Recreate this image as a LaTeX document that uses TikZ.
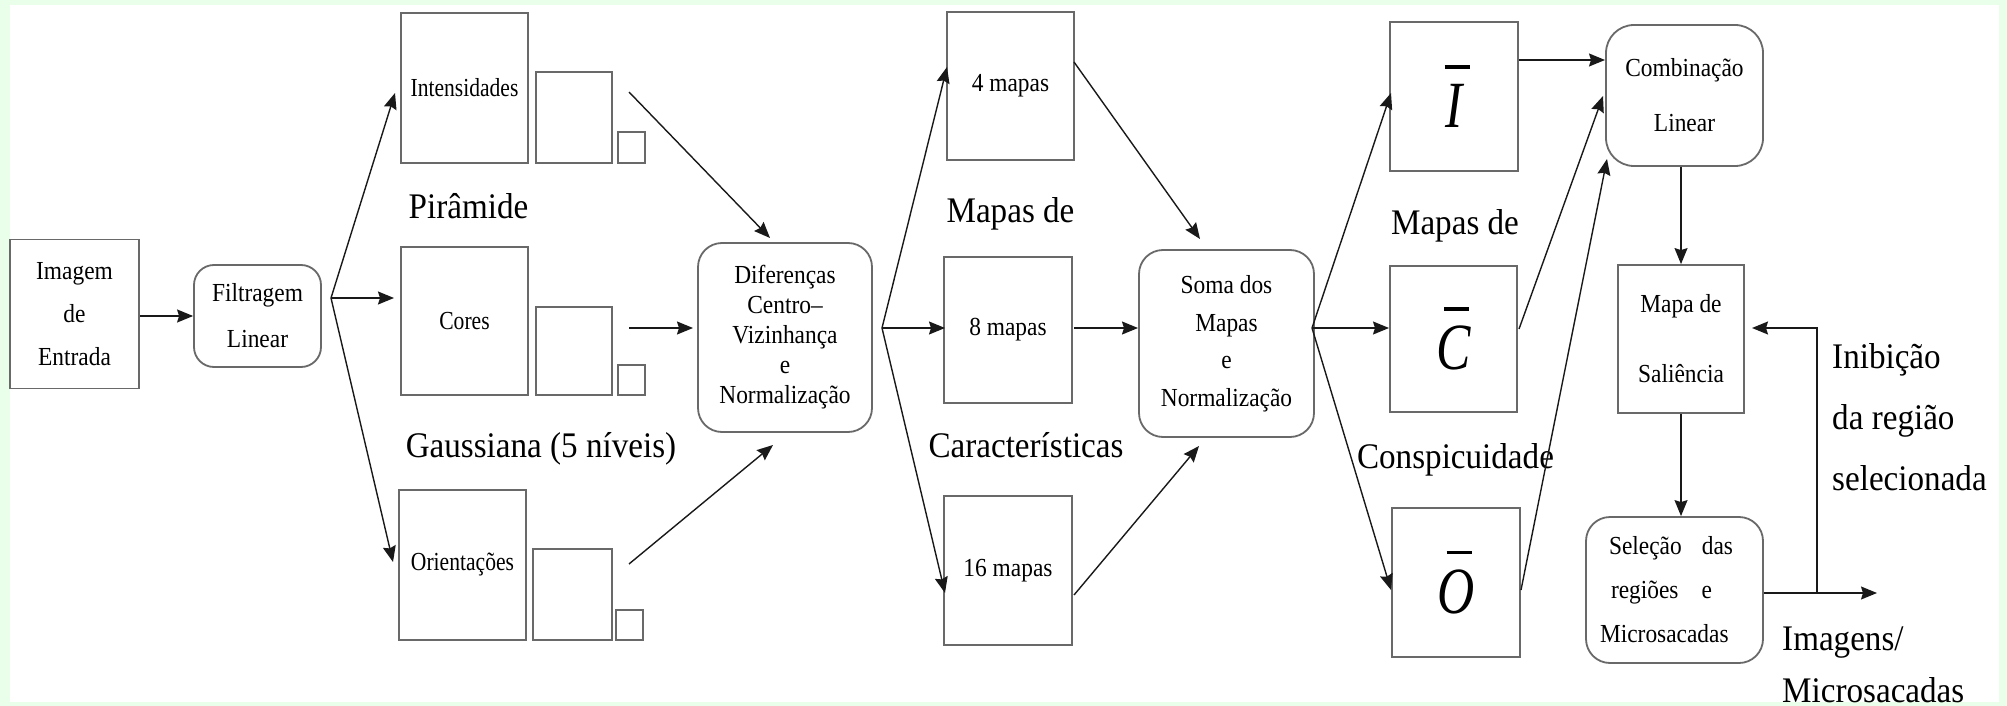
\documentclass[tikz,border=0pt]{standalone}
\usepackage{fontspec}
\setmainfont{Liberation Serif}
\newfontfamily\boxfont[FakeStretch=0.9]{Liberation Serif}
\newfontfamily\narrowfont[FakeStretch=0.83]{Liberation Serif}
\newfontfamily\labelfont[FakeStretch=0.92]{Liberation Serif}
\newfontfamily\letterfont[FakeStretch=0.78,UprightFont={* Italic}]{Liberation Serif}
\usetikzlibrary{arrows.meta}
\definecolor{bggreen}{RGB}{234,255,234}
\definecolor{boxgray}{RGB}{105,105,105}
\definecolor{arrowc}{RGB}{25,25,25}
\newsavebox\lettbox
\newcommand\barred[1]{\sbox\lettbox{\letterfont\fontsize{66}{66}\selectfont #1}\usebox\lettbox\kern-\wd\lettbox\hbox to \wd\lettbox{\hss\kern6pt\raisebox{59pt}{\rule{25pt}{3.5pt}}\hss}}
\newcommand\leftlines[1]{\vtop{\halign{##\hfil\cr#1\crcr}}}
\begin{document}
\begin{tikzpicture}[x=1pt,y=-1pt,
  bx/.style={draw=boxgray, line width=1.8pt, inner sep=0pt, align=center, font=\boxfont\fontsize{26}{31}\selectfont},
  rbx/.style={bx, rounded corners=24pt},
  sz/.style 2 args={minimum width=#1, minimum height=#2},
  arr/.style={-{Stealth[length=16pt,width=13pt,inset=2pt]}, line width=1.4pt, draw=arrowc},
  lbl/.style={font=\labelfont\fontsize{36}{44}\selectfont, inner sep=0pt, anchor=base},
  pyr/.style={font=\narrowfont\fontsize{26}{30}\selectfont}]
\fill[bggreen] (0,0) rectangle (2007,706);
\fill[white] (10,5) rectangle (1999,702);
\useasboundingbox (0,0) rectangle (2007,706);

% input stage
\node[bx, sz={129pt}{149pt}, font=\boxfont\fontsize{26}{43}\selectfont] (img) at (74.5,314) {Imagem\\de\\Entrada};
\node[rbx, rounded corners=20pt, sz={127pt}{102pt}, font=\boxfont\fontsize{26}{46}\selectfont] (filt) at (257.5,316) {Filtragem\\Linear};

% pyramids
\node[bx, pyr, sz={127pt}{150pt}] (int) at (464.5,88) {Intensidades};
\node[bx, sz={76pt}{91pt}] (int2) at (574,117.5) {};
\node[bx, sz={27pt}{31pt}] (int3) at (631.5,147.5) {};
\node[bx, pyr, sz={127pt}{148pt}] (cor) at (464.5,321) {Cores};
\node[bx, sz={76pt}{88pt}] (cor2) at (574,351) {};
\node[bx, sz={27pt}{30pt}] (cor3) at (631.5,380) {};
\node[bx, pyr, sz={127pt}{150pt}] (ori) at (462.5,565) {Orientações};
\node[bx, sz={79pt}{91pt}] (ori2) at (572.5,594.5) {};
\node[bx, sz={27pt}{30pt}] (ori3) at (629.5,625) {};
\node[lbl] (lpir) at (468.5,218) {Pirâmide};
\node[lbl] (lgau) at (541,457) {Gaussiana (5 níveis)};

% center-surround
\node[rbx, sz={174pt}{189pt}, font=\boxfont\fontsize{26}{30}\selectfont] (dif) at (785,337.5) {Diferenças\\Centro–\\Vizinhança\\e\\Normalização};

% feature maps
\node[bx, sz={127pt}{148pt}] (m4) at (1010.5,86) {4 mapas};
\node[bx, sz={128pt}{146pt}] (m8) at (1008,330) {8 mapas};
\node[bx, sz={128pt}{149pt}] (m16) at (1008,570.5) {16 mapas};
\node[lbl] (lmap1) at (1010.5,222) {Mapas de};
\node[lbl] (lcar) at (1026,457) {Características};

% sum
\node[rbx, sz={175pt}{187pt}, font=\boxfont\fontsize{26}{37.5}\selectfont] (soma) at (1226.5,343.5) {Soma dos\\Mapas\\e\\Normalização};

% conspicuity maps
\node[bx, sz={128pt}{149pt}] (ib) at (1454,96.5) {\barred{I}};
\node[bx, sz={127pt}{146pt}] (cb) at (1453.5,339) {\barred{C}};
\node[bx, sz={128pt}{149pt}] (ob) at (1456,582.5) {\barred{O}};
\node[lbl] (lmap2) at (1455,234) {Mapas de};
\node[lbl] (lcon) at (1455.5,468) {Conspicuidade};

% right column
\node[rbx, rounded corners=28pt, sz={157pt}{141pt}, font=\boxfont\fontsize{26}{55}\selectfont] (comb) at (1684.5,95.5) {Combinação\\Linear};
\node[bx, sz={126pt}{148pt}, font=\boxfont\fontsize{26}{70}\selectfont] (sal) at (1681,339) {Mapa de\\Saliência};
\node[rbx, sz={177pt}{146pt}, font=\boxfont\fontsize{26}{44}\selectfont] (sel) at (1674.5,590)
  {\hbox to 149pt{\hskip9pt Seleção\hfill das\hskip16pt}\\\hbox to 149pt{\hskip11pt regiões\hfill e\hskip37pt}\\\hbox to 149pt{Microsacadas\hfill}};
\node[lbl, anchor=base west, font=\labelfont\fontsize{36}{61}\selectfont] (linib) at (1832,368) {\leftlines{Inibição\cr da região\cr selecionada}};
\node[lbl, anchor=base west, font=\labelfont\fontsize{36}{52}\selectfont] (limg) at (1782,650) {\leftlines{Imagens/\cr Microsacadas}};

% coordinates
\coordinate (fs) at (331,298);
\coordinate (tInt) at (395,93);
\coordinate (tCor) at (394,298);
\coordinate (tOri) at (393,562);
\coordinate (sInt) at (629,92);
\coordinate (tDif1) at (770,238);
\coordinate (sCor) at (629,328);
\coordinate (tDif2) at (693,328);
\coordinate (sOri) at (629,564);
\coordinate (tDif3) at (773,445);
\coordinate (ds) at (882,328);
\coordinate (tM4) at (947,67);
\coordinate (tM8) at (945,328);
\coordinate (tM16) at (945,593);
\coordinate (sM4) at (1074,62);
\coordinate (tS1) at (1200,239);
\coordinate (sM8) at (1074,328);
\coordinate (tS2) at (1138,328);
\coordinate (sM16) at (1074,595);
\coordinate (tS3) at (1199,446);
\coordinate (ss) at (1312,328);
\coordinate (tI) at (1391,93);
\coordinate (tC) at (1389,328);
\coordinate (tO) at (1391,590);
\coordinate (sI) at (1519,60);
\coordinate (tCb1) at (1605,60);
\coordinate (sC) at (1519,329);
\coordinate (tCb2) at (1603,96);
\coordinate (sO) at (1521,590);
\coordinate (tCb3) at (1607,159);
\coordinate (oTip) at (1877,593);
\coordinate (fbj) at (1817,593);
\coordinate (fbt) at (1752,328);

% arrows
\draw[arr] (img.east |- filt.west) -- (filt.west);
\draw[arr] (fs) -- (tInt);
\draw[arr] (fs) -- (tCor);
\draw[arr] (fs) -- (tOri);
\draw[arr] (sInt) -- (tDif1);
\draw[arr] (sCor) -- (tDif2);
\draw[arr] (sOri) -- (tDif3);
\draw[arr] (ds) -- (tM4);
\draw[arr] (ds) -- (tM8);
\draw[arr] (ds) -- (tM16);
\draw[arr] (sM4) -- (tS1);
\draw[arr] (sM8) -- (tS2);
\draw[arr] (sM16) -- (tS3);
\draw[arr] (ss) -- (tI);
\draw[arr] (ss) -- (tC);
\draw[arr] (ss) -- (tO);
\draw[arr] (sI) -- (tCb1);
\draw[arr] (sC) -- (tCb2);
\draw[arr] (sO) -- (tCb3);
\draw[arr] (sal.north |- comb.south) -- (sal.north);
\draw[arr] (sal.south) -- (sal.south |- sel.north);
\draw[arr] (sel.east |- oTip) -- (oTip);
\draw[arr] (fbj) |- (fbt);
\end{tikzpicture}
\end{document}
